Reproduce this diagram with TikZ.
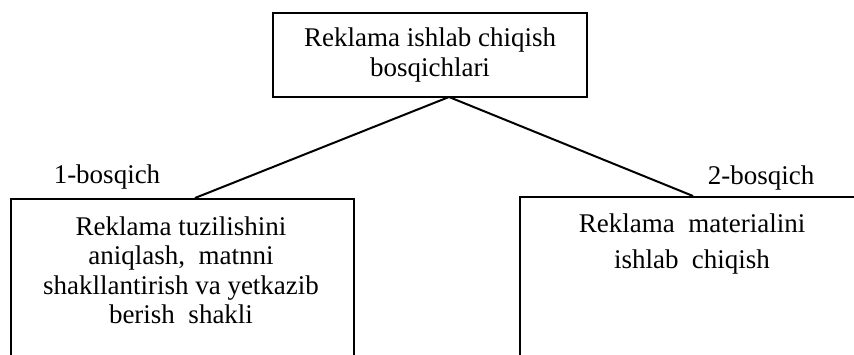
\documentclass[tikz,border=0pt]{standalone}
\usepackage{fontspec}
\setmainfont{Liberation Serif}
\usetikzlibrary{positioning}

\begin{document}
\begin{tikzpicture}[x=1pt,y=1pt,
	every node/.style={font=\fontsize{27}{29.5}\selectfont, align=center},
	framebox/.style={draw, line width=2.2pt, inner sep=0pt},
	link/.style={line width=2pt}]
	\useasboundingbox (0,0) rectangle (854,-355);
	\clip (0,0) rectangle (854,-355);
	% main box
	\node[framebox, minimum width=314, minimum height=84] (stages) at (430,-55) {Reklama ishlab chiqish\\bosqichlari};
	% open boxes, cut by the page edge
	\node[framebox, anchor=north west, minimum width=343, minimum height=200] (stage1) at (10,-198) {};
	\node[framebox, anchor=north west, minimum width=400, minimum height=200] (stage2) at (519,-196) {};
	\node[anchor=north] (stage1text) at (181,-213) {Reklama tuzilishini\\aniqlash,\ \ matnni\\shakllantirish va yetkazib\\berish\ \ shakli};
	\node[anchor=north] (stage2text) at (692,-210) {Reklama\ \ materialini\\[6.5pt]ishlab\ \ chiqish};
	\node[anchor=base] (label1) at (107,-184) {1-bosqich};
	\node[anchor=base] (label2) at (761,-185) {2-bosqich};
	% connectors
	\coordinate (apex) at (449,-97);
	\coordinate (end1) at (195,-198);
	\coordinate (end2) at (693,-196);
	\draw[link] (end1) -- (apex) -- (end2);
\end{tikzpicture}
\end{document}
